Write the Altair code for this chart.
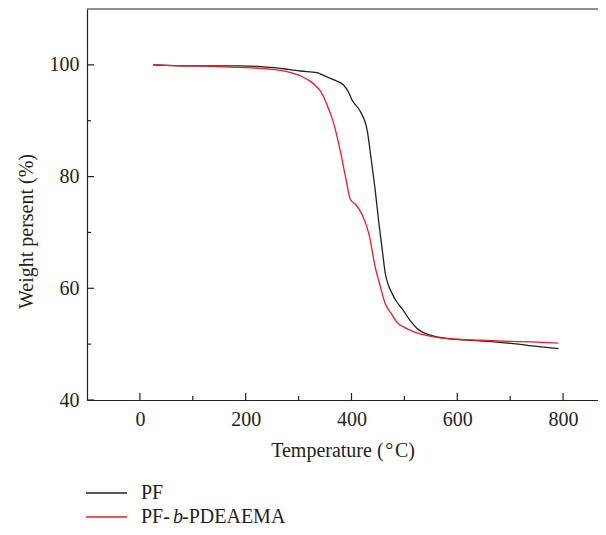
import altair as alt
import pandas as pd

# ---- data ----
SERIES = ["PF", "PF-b-PDEAEMA"]
COLORS = ["#231f20", "#ed1c24"]

T_PF = [25, 50, 100, 150, 190, 230, 254, 280, 304, 335, 345, 367, 385, 395, 401, 417,
        430, 437, 445, 452, 458, 464, 470, 477, 486, 496, 511, 524, 549, 581, 643, 706, 750, 791]
W_PF = [100.0, 99.9, 99.8, 99.8, 99.8, 99.7, 99.5, 99.2, 98.9, 98.6, 98.2, 97.3, 96.4, 95.0, 93.7, 91.6,
        88.1, 83.3, 77.4, 71.5, 67.0, 62.6, 60.5, 59.0, 57.5, 56.3, 54.2, 52.8, 51.6, 51.0, 50.6, 50.1, 49.6, 49.2]

T_PFB = [25, 50, 100, 150, 200, 240, 266, 285, 304, 323, 335, 342, 354, 367, 379, 389, 398,
         408, 420, 433, 445, 454, 464, 475, 486, 500, 518, 540, 562, 600, 643, 700, 738, 791]
W_PFB = [100.0, 99.9, 99.8, 99.7, 99.5, 99.3, 99.0, 98.6, 98.0, 97.0, 96.0, 95.2, 92.8, 89.3, 84.5, 79.8, 75.9,
         75.0, 73.2, 69.7, 63.7, 60.5, 57.2, 55.5, 53.9, 53.0, 52.2, 51.6, 51.2, 50.9, 50.7, 50.5, 50.4, 50.2]

X_TICKS = [0, 200, 400, 600, 800]
X_MINOR = [100, 300, 500, 700]
Y_TICKS = [40, 60, 80, 100]
Y_MINOR = [50, 70, 90]

X_DOMAIN = [-100, 866]
Y_DOMAIN = [40, 110]

X_TITLE = "Temperature (\u200a\u00b0\u200aC)"
Y_TITLE = "Weight persent (%)"

# ---- layout ----
W, H = 511, 391
PAD = {"left": 79, "top": 1, "right": 0, "bottom": 127}
FONT = "Liberation Serif"
FS = 20
INK = "#231f20"

df = pd.concat([
    pd.DataFrame({"T": T_PF, "W": W_PF, "s": SERIES[0]}),
    pd.DataFrame({"T": T_PFB, "W": W_PFB, "s": SERIES[1]}),
])

xs = alt.Scale(domain=X_DOMAIN, nice=False, zero=False)
ys = alt.Scale(domain=Y_DOMAIN, nice=False, zero=False)
cs = alt.Scale(domain=SERIES, range=COLORS)

lines = alt.Chart(df).mark_line(strokeWidth=1.3, clip=True, interpolate="monotone").encode(
    x=alt.X("T:Q", scale=xs, axis=alt.Axis(
        values=X_TICKS, tickSize=0, grid=False, title=X_TITLE,
        labelPadding=9, titlePadding=11, domainColor=INK, domainWidth=1.2,
        labelFont=FONT, labelFontSize=FS, labelColor=INK,
        titleFont=FONT, titleFontSize=FS, titleFontWeight="normal", titleColor=INK)),
    y=alt.Y("W:Q", scale=ys, axis=alt.Axis(
        values=Y_TICKS, tickSize=0, grid=False, title=Y_TITLE,
        labelPadding=8, domainColor=INK, domainWidth=1.2,
        labelFont=FONT, labelFontSize=FS, labelColor=INK,
        titleFont=FONT, titleFontSize=FS, titleFontWeight="normal", titleColor=INK,
        titleX=-61, titleY=222, titleAngle=270, titleBaseline="middle", titleAlign="center")),
    color=alt.Color("s:N", scale=cs, legend=None),
)

def xticks(vals, length):
    return alt.Chart(pd.DataFrame({"T": vals})).mark_rule(color=INK, strokeWidth=1.2).encode(
        x=alt.X("T:Q", scale=xs), y=alt.value(H - length), y2=alt.value(H))

def yticks(vals, length):
    return alt.Chart(pd.DataFrame({"W": vals})).mark_rule(color=INK, strokeWidth=1.2).encode(
        y=alt.Y("W:Q", scale=ys), x=alt.value(0), x2=alt.value(length))

top = alt.Chart(pd.DataFrame({"W": [Y_DOMAIN[1]]})).mark_rule(color=INK, strokeWidth=1.2).encode(
    y=alt.Y("W:Q", scale=ys), x=alt.value(0), x2=alt.value(W))

layers = [lines, xticks(X_TICKS, 7), xticks(X_MINOR, 4), yticks(Y_TICKS, 7), yticks(Y_MINOR, 4), top]

# ---- manual legend below the plot ----
LEG_Y = [H + 93, H + 117]
leg_df = pd.DataFrame({"s": SERIES})
for i, name in enumerate(SERIES):
    d = leg_df[leg_df.s == name]
    layers.append(alt.Chart(d).mark_rule(color=COLORS[i], strokeWidth=1.3).encode(
        x=alt.value(-1), x2=alt.value(40), y=alt.value(LEG_Y[i])))

parts = SERIES[1].split("-")  # PF, b, PDEAEMA
pieces = [
    (SERIES[0], 54, LEG_Y[0], "normal"),
    (parts[0] + "-", 54, LEG_Y[1], "normal"),
    (parts[1], 86, LEG_Y[1], "italic"),
    ("-" + parts[2], 95, LEG_Y[1], "normal"),
]
for txt, x, y, style in pieces:
    layers.append(alt.Chart(pd.DataFrame({"t": [txt]})).mark_text(
        font=FONT, fontSize=FS, fontStyle=style, color=INK, align="left", baseline="middle").encode(
        text="t:N", x=alt.value(x), y=alt.value(y)))

chart = alt.layer(*layers).properties(
    width=W, height=H,
    padding=PAD,
    autosize=alt.AutoSizeParams(type="none"),
).configure_view(stroke=None)

chart.save("out.html", embed_options={"renderer": "svg", "actions": False})
